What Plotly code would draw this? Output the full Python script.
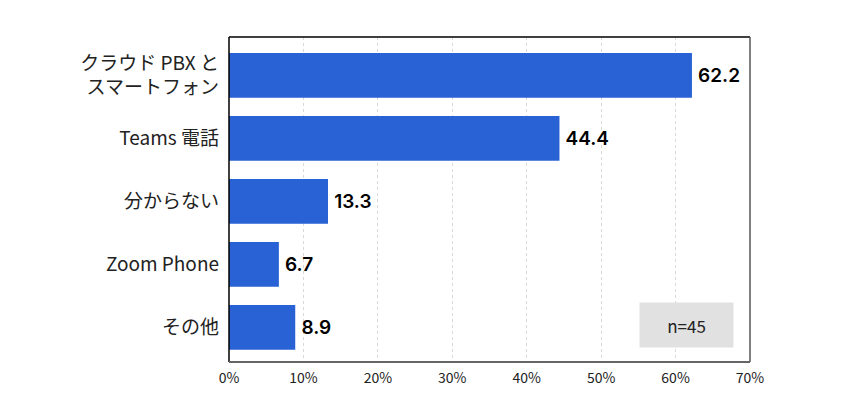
import plotly.graph_objects as go

categories = ["クラウド PBX と<br>スマートフォン", "Teams 電話", "分からない", "Zoom Phone", "その他"]
values = [62.2, 44.4, 13.3, 6.7, 8.9]
tick_vals = [0, 10, 20, 30, 40, 50, 60, 70]
tick_text = [f"{v}%" for v in tick_vals]
sample_note = "n=45"

fig = go.Figure()

fig.add_trace(go.Bar(
    x=values,
    y=categories,
    orientation='h',
    marker=dict(color='#2962d5', line=dict(width=0)),
    width=0.71,
    text=[f"\u2009{v:.1f}" for v in values],
    textposition='outside',
    textfont=dict(family='Inter', size=19, color='black', weight=600),
    cliponaxis=False,
    showlegend=False
))

# 枠線
fig.add_shape(type='line', xref='paper', yref='paper', x0=0, x1=1, y0=1, y1=1,
              line=dict(color='black', width=1.5))
fig.add_shape(type='line', xref='paper', yref='paper', x0=0, x1=0, y0=0, y1=1,
              line=dict(color='black', width=1.5))
fig.add_shape(type='line', xref='paper', yref='paper', x0=1, x1=1, y0=0, y1=1,
              line=dict(color='#555555', width=1.5))
fig.add_shape(type='line', xref='paper', yref='paper', x0=0, x1=1, y0=0, y1=0,
              line=dict(color='#666666', width=2))

fig.add_annotation(
    x=61.5, y=3.96, xref='x', yref='y',
    text=sample_note, showarrow=False,
    bgcolor='#e1e1e1', width=91, height=42,
    font=dict(family='Noto Sans CJK JP', size=17, color='#222222')
)

# ページ余白(8px)ぶんを差し引いたサイズ
fig.update_layout(
    width=835, height=399,
    margin=dict(l=221, r=93, t=29, b=45),
    paper_bgcolor='white',
    plot_bgcolor='white',
    font=dict(family='Noto Sans CJK JP', color='#222222'),
    xaxis=dict(
        range=[0, 70], automargin=False,
        tickvals=tick_vals, ticktext=tick_text,
        showgrid=True, gridcolor='#d9d9d9', griddash='3px,3px', gridwidth=1,
        zeroline=False, showline=False,
        tickfont=dict(family='Noto Sans CJK JP', size=14, color='#222222'),
        ticks='', ticklabelstandoff=6
    ),
    yaxis=dict(
        categoryorder='array', categoryarray=categories,
        range=[4.55, -0.61], automargin=False,
        showgrid=False, zeroline=False, showline=False,
        tickfont=dict(family='Noto Sans CJK JP', size=19, color='#222222'),
        ticks='', ticklabelstandoff=9
    )
)

fig.write_html("out.html")
